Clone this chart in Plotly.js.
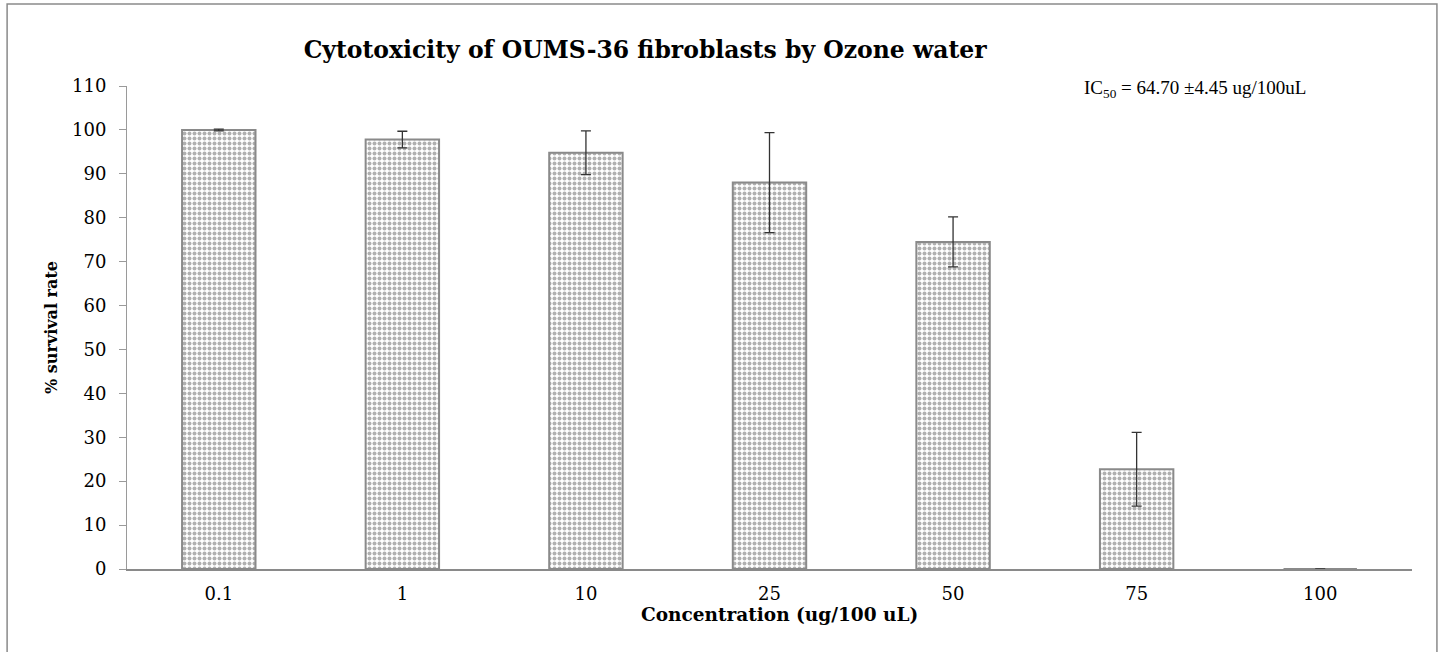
<!DOCTYPE html>
<html>
<head>
<meta charset="utf-8">
<script src="https://cdn.plot.ly/plotly-3.0.1.min.js"></script>
<style>html,body{margin:0;padding:0;background:#fff;}#chart{width:1440px;height:652px;}</style>
</head>
<body>
<div id="chart"></div>
<script>
var categories = ["0.1", "1", "10", "25", "50", "75", "100"];
var survival = [100, 97.8, 94.8, 88.0, 74.5, 22.7, 0];
var errors = [0.2, 1.9, 5.0, 11.4, 5.7, 8.4, 0];

var serif = "DejaVu Serif, Liberation Serif, serif";
var times = "Liberation Serif, Times New Roman, serif";

var trace = {
  type: "bar",
  x: categories,
  y: survival,
  width: 0.4,
  marker: {
    color: "#ffffff",
    line: {color: "#8a8a8a", width: 2},
    pattern: {shape: ".", fgcolor: "#b0b0b0", bgcolor: "#ffffff", size: 5, solidity: 0.5}
  },
  error_y: {type: "data", array: errors, visible: true, color: "#333333", thickness: 1.3, width: 5}
};

var layout = {
  width: 1440, height: 652,
  margin: {l: 127, r: 28, t: 86, b: 83},
  paper_bgcolor: "#ffffff", plot_bgcolor: "#ffffff",
  showlegend: false,
  title: {text: "<b>Cytotoxicity of OUMS-36 fibroblasts by Ozone water</b>", x: 0.448, xanchor: "center", y: 0.923, yanchor: "middle",
          font: {family: serif, size: 23.5, color: "#000"}},
  xaxis: {
    type: "category",
    showline: true, linecolor: "#8a8a8a", linewidth: 1.5,
    ticks: "", showgrid: false, zeroline: false,
    ticklabelstandoff: 8,
    tickfont: {family: serif, size: 18, color: "#000"}
  },
  yaxis: {
    range: [0, 110], dtick: 10, tick0: 0,
    showline: true, linecolor: "#9a9a9a", linewidth: 1,
    ticks: "outside", ticklen: 7, tickcolor: "#9a9a9a",
    ticklabelstandoff: 9,
    showgrid: false, zeroline: false,
    tickfont: {family: serif, size: 18, color: "#000"},
    title: {text: "<b>% survival rate</b>", font: {family: serif, size: 16, color: "#000"}, standoff: 10}
  },
  annotations: [{
    xref: "paper", yref: "paper", x: 0.743, y: 0.993, xanchor: "left", yanchor: "middle",
    text: "IC<sub>50</sub> = 64.70 ±4.45 ug/100uL", showarrow: false,
    font: {family: times, size: 19, color: "#000"}
  }, {
    xref: "paper", yref: "paper", x: 0.508, y: -0.095, xanchor: "center", yanchor: "middle",
    text: "<b>Concentration (ug/100 uL)</b>", showarrow: false,
    font: {family: serif, size: 18.5, color: "#000"}
  }],
  shapes: [{
    type: "rect", xref: "paper", yref: "paper",
    x0: -0.0933, x1: 1.0194, y0: -0.3, y1: 1.1698,
    line: {color: "#8a8a8a", width: 1.5}, fillcolor: "rgba(0,0,0,0)", layer: "below"
  }]
};

Plotly.newPlot("chart", [trace], layout, {displayModeBar: false, staticPlot: true});
</script>
</body>
</html>
